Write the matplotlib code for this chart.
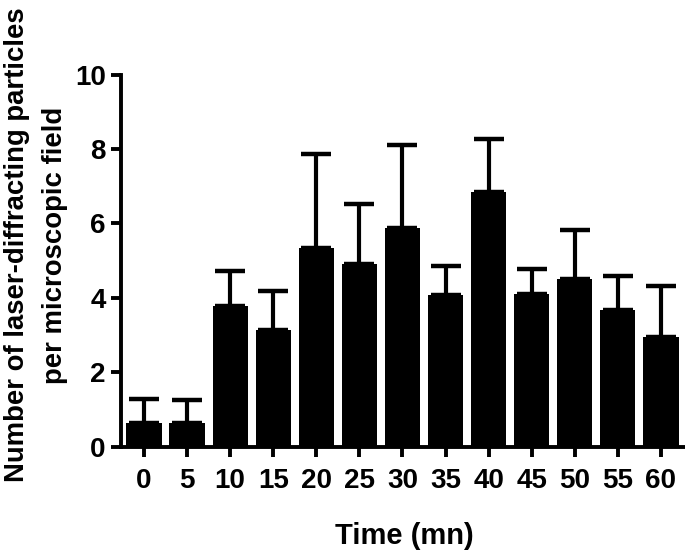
import matplotlib
matplotlib.use("Agg")
import matplotlib.pyplot as plt
import numpy as np

# Time points (mn) and mean counts with upper error (SEM)
times = ["0", "5", "10", "15", "20", "25", "30", "35", "40", "45", "50", "55", "60"]
means = [0.63, 0.63, 3.79, 3.13, 5.35, 4.90, 5.88, 4.08, 6.85, 4.10, 4.52, 3.68, 2.94]
errors = [0.65, 0.62, 0.93, 1.06, 2.51, 1.63, 2.24, 0.79, 1.42, 0.68, 1.30, 0.91, 1.38]

plt.rcParams["font.family"] = ["Liberation Sans", "DejaVu Sans"]
plt.rcParams["font.weight"] = "bold"

fig = plt.figure(figsize=(6.85, 5.54), dpi=100)
ax = fig.add_axes([121 / 685, (554 - 446.7) / 554, 564 / 685, 372 / 554])

x = np.arange(len(times))
ax.bar(x, means, width=0.82, color="black", zorder=2)
ax.errorbar(x, means, yerr=[np.zeros(len(errors)), errors], fmt="none",
            ecolor="black", elinewidth=3.0, capsize=11, capthick=3.2, zorder=1)

ax.set_xlim(-0.535, 12.56)
ax.set_ylim(0, 10)
ax.set_yticks([0, 2, 4, 6, 8, 10])
ax.set_xticks(x)
ax.set_xticklabels(times)

for side in ["top", "right"]:
    ax.spines[side].set_visible(False)
for side in ["left", "bottom"]:
    ax.spines[side].set_linewidth(2.8)

ax.tick_params(axis="y", length=7, width=2.8, pad=4, labelsize=20)
ax.tick_params(axis="x", length=7, width=2.8, pad=8, labelsize=20)
for lab in ax.get_xticklabels() + ax.get_yticklabels():
    lab.set_fontweight("bold")

fig.text(404 / 685, (554 - 536) / 554, "Time (mn)", ha="center", va="center",
         fontsize=21, fontweight="bold")
fig.text(36 / 685, (554 - 245) / 554,
         "Number of laser-diffracting particles\nper microscopic field",
         ha="center", va="center", rotation=90, fontsize=19.8, fontweight="bold",
         multialignment="center", linespacing=1.55)

fig.savefig("out.png", dpi=100)
